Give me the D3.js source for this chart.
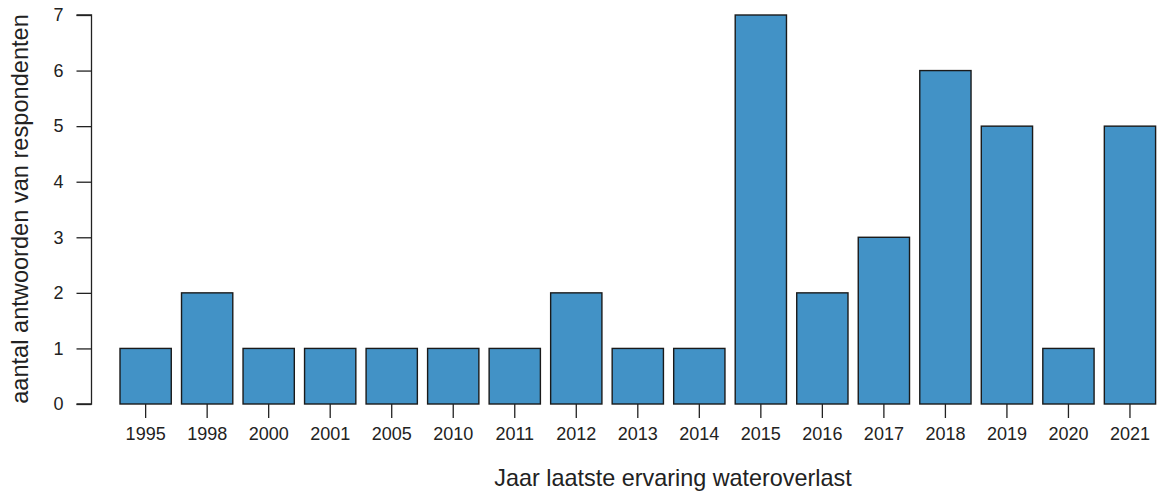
<!DOCTYPE html>
<html>
<head>
<meta charset="utf-8">
<script src="https://cdn.jsdelivr.net/npm/d3@7"></script>
<style>
  html, body { margin: 0; padding: 0; background: #fff; }
  svg { display: block; font-family: "Liberation Sans", Arial, sans-serif; }
</style>
</head>
<body>
<svg id="chart" width="1157" height="492"></svg>
<script>
const categories = ["1995","1998","2000","2001","2005","2010","2011","2012","2013","2014","2015","2016","2017","2018","2019","2020","2021"];
const values = [1,2,1,1,1,1,1,2,1,1,7,2,3,6,5,1,5];
const yTicks = [0,1,2,3,4,5,6,7];
const xTitle = "Jaar laatste ervaring wateroverlast";
const yTitle = "aantal antwoorden van respondenten";

const svg = d3.select("#chart");
const x = d3.scaleBand().domain(categories).range([120, 1155.6]).paddingInner(1/6).paddingOuter(0);
const y = d3.scaleLinear().domain([0, 7]).range([404, 15]);

const data = categories.map((c, i) => ({ c, v: values[i] }));

// bars
svg.append("g").selectAll("rect").data(data).join("rect")
  .attr("x", d => x(d.c))
  .attr("y", d => y(d.v))
  .attr("width", x.bandwidth())
  .attr("height", d => y(0) - y(d.v))
  .attr("fill", "#4292C6")
  .attr("stroke", "#1a1a1a")
  .attr("stroke-width", 1.4);

// y axis
const yAxis = d3.axisLeft(y).tickValues(yTicks).tickSize(15).tickPadding(13).tickFormat(d3.format("d"));
const gy = svg.append("g").attr("transform", "translate(91.5,0)").call(yAxis);
gy.select(".domain").attr("stroke", "#222").attr("stroke-width", 1.3).attr("d", `M-15,${y(7)}H0V${y(0)}H-15`);
gy.selectAll(".tick line").attr("stroke", "#222").attr("stroke-width", 1.3);
gy.selectAll(".tick text").attr("font-size", 18).attr("fill", "#222")
  .attr("font-family", "Liberation Sans, Arial, sans-serif");

// x axis (ticks only)
const xAxis = d3.axisBottom(x).tickSize(14).tickPadding(9);
const gx = svg.append("g").attr("transform", "translate(0,404)").call(xAxis);
gx.select(".domain").remove();
gx.selectAll(".tick line").attr("stroke", "#222").attr("stroke-width", 1.3);
gx.selectAll(".tick text").attr("font-size", 18).attr("fill", "#222")
  .attr("font-family", "Liberation Sans, Arial, sans-serif");

// titles
svg.append("text").attr("x", 673).attr("y", 486).attr("text-anchor", "middle")
  .attr("font-size", 23.4).attr("fill", "#222").text(xTitle);
svg.append("text").attr("transform", "translate(28,209) rotate(-90)").attr("text-anchor", "middle")
  .attr("font-size", 23.6).attr("fill", "#222").text(yTitle);
</script>
</body>
</html>
